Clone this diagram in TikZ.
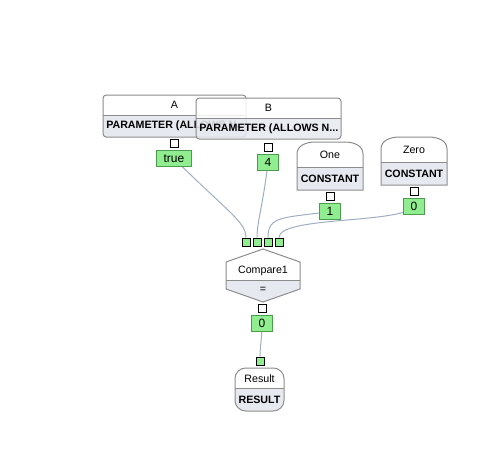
\documentclass[tikz,border=0pt]{standalone}
\usepackage{fontspec}
\setmainfont{Liberation Sans}
\usetikzlibrary{positioning,backgrounds}
\definecolor{framegray}{HTML}{8C8C8C}
\definecolor{typegray}{HTML}{E6E9EF}
\definecolor{valgreen}{HTML}{90EE90}
\definecolor{valedge}{HTML}{4E9A4E}
\definecolor{wirecol}{HTML}{A0AEC4}

\begin{document}
\begin{tikzpicture}[
        x=0.75pt, y=-0.75pt,
        frame/.style={draw=framegray, line width=0.75pt},
        headtxt/.style={font=\fontsize{8}{9}\selectfont, inner sep=0pt},
        typetxt/.style={font=\bfseries\fontsize{8}{9}\selectfont, inner sep=0pt},
        port/.style={rectangle, draw=black, fill=white, line width=0.6pt, minimum size=6pt, inner sep=0pt},
        inport/.style={port, fill=valgreen},
        value/.style={rectangle, draw=valedge, fill=valgreen, line width=0.75pt, minimum width=16pt, minimum height=12pt, inner xsep=5.5pt, inner ysep=1pt, font=\fontsize{9}{10}\selectfont},
        wire/.style={draw=wirecol, line width=0.75pt}
    ]
        \useasboundingbox (0,0) rectangle (487,468);

        % Parameter A
        \begin{scope}
            \clip[rounded corners=2.5pt] (103,95) rectangle (246,137);
            \fill[white] (103,95) rectangle (246,115);
            \fill[typegray] (103,115) rectangle (246,137);
            \node[typetxt, anchor=west] (Atype) at (106,126) {PARAMETER (ALLOWS N...};
        \end{scope}
        \draw[frame, rounded corners=2.5pt] (103,95) rectangle (246,137);
        \draw[frame] (103,115) -- (246,115);
        \node[headtxt] (Ahead) at (174.5,105) {A};

        % Parameter B
        \begin{scope}
            \clip[rounded corners=2.5pt] (196,98) rectangle (341,139);
            \fill[white, fill opacity=0.85] (196,98) rectangle (341,118);
            \fill[typegray, fill opacity=0.88] (196,118) rectangle (341,139);
            \node[typetxt, anchor=west] (Btype) at (199,129) {PARAMETER (ALLOWS N...};
        \end{scope}
        \draw[frame, rounded corners=2.5pt] (196,98) rectangle (341,139);
        \draw[frame] (196,118) -- (341,118);
        \node[headtxt] (Bhead) at (268.5,108) {B};

        % Constants
        \fill[white] (297,190) -- (297,154) .. controls (297,146) and (305,142) .. (316,142) -- (344,142) .. controls (355,142) and (363,146) .. (363,154) -- (363,190) -- cycle;
        \fill[typegray] (297,167) rectangle (363,190);
        \draw[frame] (297,190) -- (297,154) .. controls (297,146) and (305,142) .. (316,142) -- (344,142) .. controls (355,142) and (363,146) .. (363,154) -- (363,190) -- cycle;
        \draw[frame] (297,167) -- (363,167);
        \node[headtxt] (Onehead) at (330,155) {One};
        \node[typetxt] (Onetype) at (330,179) {CONSTANT};

        \fill[white] (381,185) -- (381,149) .. controls (381,141) and (389,137) .. (400,137) -- (428,137) .. controls (439,137) and (447,141) .. (447,149) -- (447,185) -- cycle;
        \fill[typegray] (381,162) rectangle (447,185);
        \draw[frame] (381,185) -- (381,149) .. controls (381,141) and (389,137) .. (400,137) -- (428,137) .. controls (439,137) and (447,141) .. (447,149) -- (447,185) -- cycle;
        \draw[frame] (381,162) -- (447,162);
        \node[headtxt] (Zerohead) at (414,150) {Zero};
        \node[typetxt] (Zerotype) at (414,174) {CONSTANT};

        % Compare1
        \begin{scope}
            \clip (226,262) -- (263,249) -- (300,262) -- (300,289) -- (263,302) -- (226,289) -- cycle;
            \fill[white] (226,249) rectangle (300,280);
            \fill[typegray] (226,280) rectangle (300,302);
        \end{scope}
        \draw[frame] (226,262) -- (263,249) -- (300,262) -- (300,289) -- (263,302) -- (226,289) -- cycle;
        \draw[frame] (226,280) -- (300,280);
        \node[headtxt] (Cmphead) at (263,271) {Compare1};
        \node[headtxt] (Cmpop) at (263,290) {=};

        % Result
        \begin{scope}
            \clip[rounded corners=8pt] (235,368) rectangle (284,411);
            \fill[white] (235,368) rectangle (284,388);
            \fill[typegray] (235,388) rectangle (284,411);
        \end{scope}
        \draw[frame, rounded corners=8pt] (235,368) rectangle (284,411);
        \draw[frame] (235,388) -- (284,388);
        \node[headtxt] (Reshead) at (259.5,379) {Result};
        \node[typetxt] (Restype) at (259.5,400) {RESULT};

        % Ports and values
        \node[port] (Aout) at (174,143) {};
        \node[value, below=2pt of Aout] (Aval) {true};
        \node[port] (Bout) at (268,147) {};
        \node[value, below=2pt of Bout] (Bval) {4};
        \node[port] (Oneout) at (330,196) {};
        \node[value, below=2pt of Oneout] (Oneval) {1};
        \node[port] (Zeroout) at (414,191) {};
        \node[value, below=2pt of Zeroout] (Zeroval) {0};
        \foreach \i/\x in {1/246,2/257,3/268,4/279}
            \node[inport] (in\i) at (\x,242) {};
        \node[port] (Cmpout) at (262,308) {};
        \node[value, below=2pt of Cmpout] (Cmpval) {0};
        \node[inport] (Resin) at (260,361) {};

        % Wires
        \begin{pgfonlayer}{background}
            \draw[wire] (Aval.center) .. controls (228,212) and (246,222) .. (in1.north);
            \draw[wire] (Bval.center) .. controls (263,205) and (257,222) .. (in2.north);
            \draw[wire] (Oneval.center) .. controls (282,218) and (268,216) .. (in3.north);
            \draw[wire] (Zeroval.center) .. controls (400,224) and (279,216) .. (in4.north);
            \draw[wire] (Cmpval.center) .. controls (262,340) and (260,345) .. (Resin.north);
        \end{pgfonlayer}
    \end{tikzpicture}
\end{document}
